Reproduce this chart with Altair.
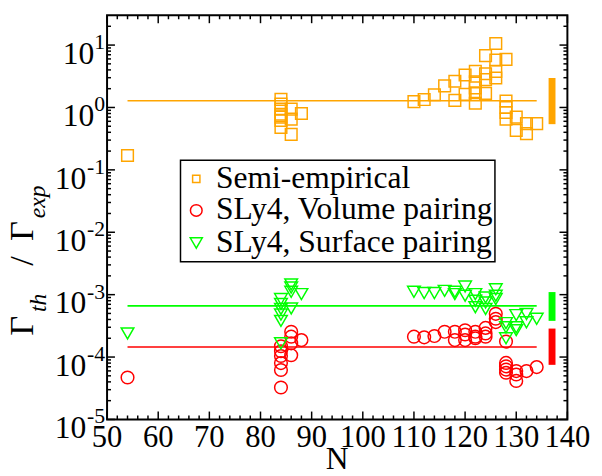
import altair as alt
import pandas as pd

# ---------------- data ----------------
semi_N = [54, 84, 84, 84, 84, 84, 84, 84, 86, 86, 86, 88,
          110, 112, 114, 116, 118, 118, 120, 120, 122, 122, 122, 122, 122,
          124, 124, 124, 124, 126, 126, 126, 126, 128, 128, 128, 128, 128,
          130, 130, 132, 132, 134]
semi_R = [0.17, 1.35, 1.13, 0.94, 0.78, 0.70, 0.62, 0.48, 0.94, 0.65, 0.37, 0.80,
          1.24, 1.34, 1.60, 2.22, 2.63, 1.30, 3.31, 1.62, 3.78, 2.57, 2.06, 1.72, 1.17,
          6.76, 3.47, 2.79, 1.68, 10.6, 5.76, 3.78, 2.97, 5.9, 1.27, 1.0, 0.83, 0.65,
          0.70, 0.43, 0.55, 0.38, 0.55]

vol_N = [54, 84, 84, 84, 84, 84, 84, 86, 86, 86, 86, 88,
         110, 112, 114, 116, 118, 118, 120, 120, 120, 122, 122, 122,
         124, 124, 124, 126, 126, 126, 128, 128, 128, 128, 128,
         130, 130, 130, 132, 134]
vol_R = [4.7e-5, 1.49e-4, 1.24e-4, 1.04e-4, 8.0e-5, 6.2e-5, 3.25e-5,
         2.54e-4, 2.12e-4, 1.66e-4, 1.07e-4, 1.87e-4,
         2.12e-4, 2.07e-4, 2.17e-4, 2.54e-4, 2.54e-4, 1.87e-4, 2.69e-4, 2.30e-4, 1.87e-4,
         2.54e-4, 2.12e-4, 2.0e-4, 2.93e-4, 2.39e-4, 2.12e-4, 4.93e-4, 4.11e-4, 3.63e-4,
         1.77e-4, 8.05e-5, 7.1e-5, 6.3e-5, 5.6e-5, 5.96e-5, 5.25e-5, 4.14e-5, 5.96e-5, 6.9e-5]

surf_N = [54, 84, 84, 84, 84, 84, 84, 86, 86, 86, 86, 88,
          110, 112, 114, 116, 118, 118, 120, 120, 122, 122, 122,
          124, 124, 124, 126, 126, 126, 128, 128, 128,
          130, 130, 130, 132, 132, 134]
surf_R = [2.39e-4, 8.5e-4, 7.1e-4, 5.9e-4, 4.8e-4, 3.8e-4, 1.66e-4,
          1.46e-3, 1.30e-3, 1.11e-3, 6.0e-4, 1.02e-3,
          1.11e-3, 1.06e-3, 1.06e-3, 1.15e-3, 1.11e-3, 1.02e-3, 1.35e-3, 9.6e-4,
          1.02e-3, 8.0e-4, 6.3e-4, 9.0e-4, 7.5e-4, 5.9e-4, 1.22e-3, 9.6e-4, 8.5e-4,
          3.5e-4, 3.0e-4, 2.0e-4, 4.7e-4, 3.0e-4, 2.7e-4, 4.9e-4, 3.6e-4, 4.1e-4]

series_names = ["Semi-empirical", "SLy4, Volume pairing", "SLy4, Surface pairing"]
avg_values = [1.28, 1.45e-4, 6.6e-4]
avg_from = [54, 54, 54]
avg_to = [134, 134, 134]
band_N = [137, 137, 137]
band_lo = [0.54, 7.5e-5, 3.8e-4]
band_hi = [2.97, 2.86e-4, 1.1e-3]

x_major = [50, 60, 70, 80, 90, 100, 110, 120, 130, 140]
y_exponents = [-5, -4, -3, -2, -1, 0, 1]

# ---------------- styling ----------------
W, H = 467, 410
FONT = "Liberation Serif"
ORANGE, RED, GREEN = "#FFA500", "#FF0000", "#00FF00"
colors = [ORANGE, RED, GREEN]

xs = alt.Scale(domain=[50, 140], nice=False, zero=False)
ys = alt.Scale(type="log", domain=[1e-5, 30], nice=False)
one = pd.DataFrame({"a": [0]})

layers = []

# inside ticks on all four sides
x_minor = [v for v in range(50, 141, 2) if v % 10]
y_major_v = [10.0 ** e for e in y_exponents]
y_minor_v = [m * 10.0 ** e for e in y_exponents for m in range(2, 10) if m * 10.0 ** e < 30]


def xticks(vals, y0, y1):
    return alt.Chart(pd.DataFrame({"t": vals})).mark_rule(color="black", strokeWidth=1.5).encode(
        x=alt.X("t:Q", scale=xs, axis=None), y=alt.value(y0), y2=alt.value(y1))


def yticks(vals, x0, x1):
    return alt.Chart(pd.DataFrame({"t": vals})).mark_rule(color="black", strokeWidth=1.5).encode(
        y=alt.Y("t:Q", scale=ys, axis=None), x=alt.value(x0), x2=alt.value(x1))


layers += [xticks(x_major, H, H - 8), xticks(x_major, 0, 8),
           xticks(x_minor, H, H - 4), xticks(x_minor, 0, 4),
           yticks(y_major_v, 0, 8), yticks(y_major_v, W, W - 8),
           yticks(y_minor_v, 0, 4), yticks(y_minor_v, W, W - 4)]

cscale = alt.Scale(domain=series_names, range=colors)

avg_df = pd.DataFrame({"a": avg_from, "b": avg_to, "v": avg_values, "s": series_names})
layers.append(alt.Chart(avg_df).mark_rule(strokeWidth=1.7).encode(
    x=alt.X("a:Q", scale=xs, axis=None), x2="b:Q",
    y=alt.Y("v:Q", scale=ys, axis=None),
    color=alt.Color("s:N", scale=cscale, legend=None)))

band_df = pd.DataFrame({"n": band_N, "lo": band_lo, "hi": band_hi, "s": series_names})
layers.append(alt.Chart(band_df).mark_rule(strokeWidth=7).encode(
    x=alt.X("n:Q", scale=xs, axis=None),
    y=alt.Y("lo:Q", scale=ys, axis=None), y2="hi:Q",
    color=alt.Color("s:N", scale=cscale, legend=None)))


def pts(N, R, shape, color, size):
    df = pd.DataFrame({"N": N, "R": R})
    return alt.Chart(df).mark_point(shape=shape, filled=False, color=color, size=size,
                                    strokeWidth=1.5, opacity=1).encode(
        x=alt.X("N:Q", scale=xs, axis=None), y=alt.Y("R:Q", scale=ys, axis=None))


layers.append(pts(semi_N, semi_R, "square", ORANGE, 140))
layers.append(pts(vol_N, vol_R, "circle", RED, 165))
layers.append(pts(surf_N, surf_R, "triangle-down", GREEN, 165))

# legend (drawn by hand)
layers.append(alt.Chart(one).mark_rect(fill="white", stroke="black", strokeWidth=1.5).encode(
    x=alt.value(74.5), x2=alt.value(393.5), y=alt.value(147), y2=alt.value(250)))
leg_rows = [166, 198, 231]
leg_shapes = ["square", "circle", "triangle-down"]
leg_sizes = [55, 140, 150]
for name, col, shp, sz, ry in zip(series_names, colors, leg_shapes, leg_sizes, leg_rows):
    layers.append(alt.Chart(one).mark_point(shape=shp, filled=False, color=col, size=sz,
                                            strokeWidth=1.5, opacity=1).encode(
        x=alt.value(90.5), y=alt.value(ry)))
    layers.append(alt.Chart(one).mark_text(font=FONT, fontSize=32, align="left",
                                           baseline="alphabetic", color="black").encode(
        x=alt.value(110.5), y=alt.value(ry + 9), text=alt.value(name)))

# y tick labels 10^k
ylab = pd.DataFrame({"v": y_major_v, "e": y_exponents, "es": [str(e) for e in y_exponents]})
layers.append(alt.Chart(ylab).transform_filter("datum.e < 0").mark_text(
    font=FONT, fontSize=32, align="right", baseline="alphabetic", dy=19, color="black").encode(
    x=alt.value(-21), y=alt.Y("v:Q", scale=ys, axis=None), text=alt.value("10")))
layers.append(alt.Chart(ylab).transform_filter("datum.e >= 0").mark_text(
    font=FONT, fontSize=32, align="right", baseline="alphabetic", dy=19, color="black").encode(
    x=alt.value(-13), y=alt.Y("v:Q", scale=ys, axis=None), text=alt.value("10")))
layers.append(alt.Chart(ylab).mark_text(
    font=FONT, fontSize=22, align="right", baseline="alphabetic", dy=4, color="black").encode(
    x=alt.value(-2), y=alt.Y("v:Q", scale=ys, axis=None), text="es:N"))

# x tick labels
xlab = pd.DataFrame({"t": x_major, "lab": [str(v) for v in x_major]})
layers.append(alt.Chart(xlab).mark_text(font=FONT, fontSize=31, align="center",
                                        baseline="alphabetic", color="black").encode(
    x=alt.X("t:Q", scale=xs, axis=None), y=alt.value(H + 28), text="lab:N"))

# x title
layers.append(alt.Chart(one).mark_text(font=FONT, fontSize=32, align="center",
                                       baseline="alphabetic", color="black").encode(
    x=alt.value(W / 2), y=alt.value(H + 50), text=alt.value("N")))

# y title  Γ_th / Γ_exp  (rotated pieces)
title_pieces = [("Γ", 35, "normal", -75.5, 325),
                ("th", 24, "italic", -62, 301),
                ("/", 35, "normal", -75.5, 254),
                ("Γ", 35, "normal", -75.5, 229),
                ("exp", 24, "italic", -63, 206)]
for txt, fs, style, px, py in title_pieces:
    layers.append(alt.Chart(one).mark_text(font=FONT, fontSize=fs, fontStyle=style, angle=270,
                                           align="left", baseline="alphabetic", color="black").encode(
        x=alt.value(px), y=alt.value(py), text=alt.value(txt)))

chart = alt.layer(*layers).properties(
    width=W, height=H,
    autosize=alt.AutoSizeParams(type="none"),
    padding={"left": 100.5, "top": 4, "right": 27, "bottom": 56},
).configure_view(stroke="black", strokeWidth=2)

chart.save("out.html", embed_options={"renderer": "svg", "actions": False})
